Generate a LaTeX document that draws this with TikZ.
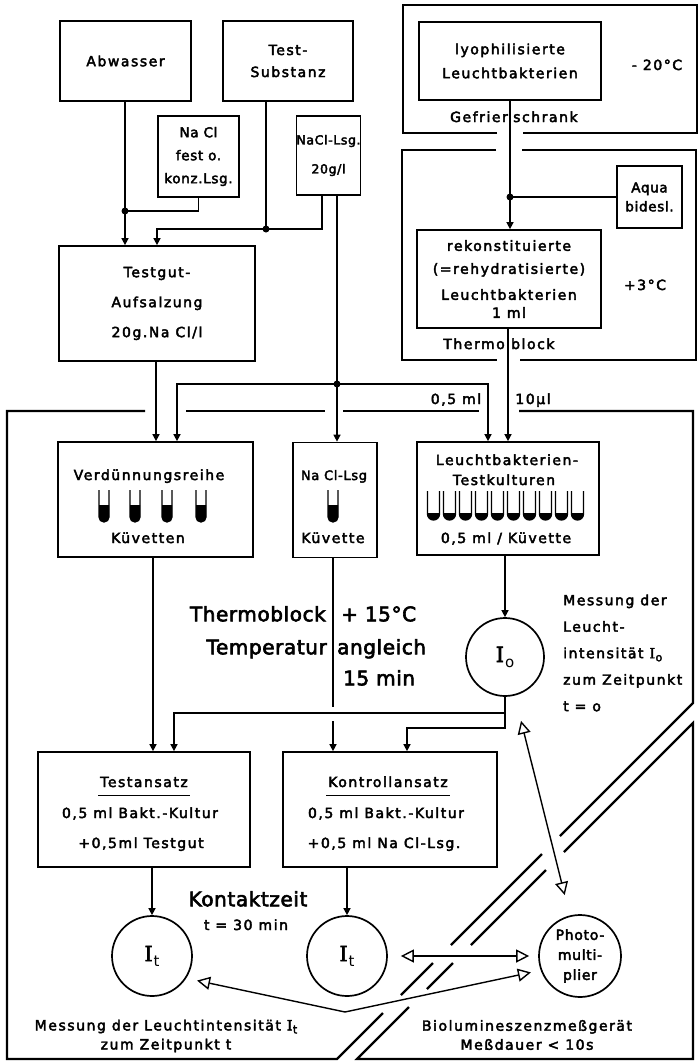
\documentclass[tikz,border=0pt]{standalone}
\usepackage{fontspec}
\setmainfont{DejaVu Sans}
\newfontfamily\lblfont{DejaVu Sans}[LetterSpace=11, FakeBold=3]
\newfontfamily\tightfont{DejaVu Sans}[LetterSpace=5, FakeBold=3]
\newfontfamily\bigfont{DejaVu Sans}[LetterSpace=3, FakeBold=3]
\newfontfamily\serfont{DejaVu Serif}[FakeBold=3]
\usetikzlibrary{arrows.meta}
\newcommand\Ib[1]{{\serfont I}\kern0.5pt\raisebox{-3pt}{\fontsize{11}{11}\selectfont #1}}
\newcommand\Ic[1]{{\serfont\fontsize{21}{21}\selectfont I}\kern1pt\raisebox{-5pt}{\fontsize{15}{15}\selectfont #1}}
\newcommand\mytube[5]{%
  \fill (#1-#5,#4) -- (#1-#5,#3) arc[start angle=180,end angle=360,radius=#5pt] -- (#1+#5,#4) -- cycle;
  \draw[line width=1.3pt] (#1-#5,#2) -- (#1-#5,#3) arc[start angle=180,end angle=360,radius=#5pt] -- (#1+#5,#2);}
\begin{document}
\begin{tikzpicture}[x=1pt,y=-1pt,
  box/.style={draw, line width=1.7pt, inner sep=0pt, align=center, font=\lblfont\fontsize{14}{16}\selectfont},
  tbox/.style={font=\tightfont\fontsize{13.5}{15}\selectfont},
  con/.style={line width=1.4pt},
  arr/.style={con, -{Triangle[length=7pt,width=7pt]}},
  oarr/.style={con, {Triangle[open,length=13pt,width=13pt]}-{Triangle[open,length=13pt,width=13pt]}},
  frame/.style={line width=2.2pt, line join=miter},
  lbl/.style={font=\lblfont\fontsize{14}{16}\selectfont, inner sep=0pt, align=center},
  tlbl/.style={font=\tightfont\fontsize{13}{15}\selectfont, inner sep=0pt, align=center},
  one/.style={text height=10pt, text depth=0pt},
  big/.style={font=\bigfont\fontsize{20}{24}\selectfont, inner sep=0pt},
  bone/.style={text height=14.5pt, text depth=0pt},
  dot/.style={circle, fill, inner sep=0pt, minimum size=7pt},
  meas/.style={circle, draw, line width=1.7pt, inner sep=0pt},
]
\useasboundingbox (0,0) rectangle (698,1063);
\fill[white] (0,0) rectangle (698,1063);

% ---------- frames ----------
\draw[frame] (497,133) -- (403,133) -- (403,5) -- (697,5) -- (697,133) -- (523,133);
\draw[frame] (496,150) -- (402,150) -- (402,360) -- (497,360);
\draw[frame] (522,150) -- (696,150) -- (696,360) -- (520,360);
\draw[frame] (145,411) -- (7,411) -- (7,1059) -- (337,1059) -- (383,1013);
\draw[frame] (401,995) -- (433,963);
\draw[frame] (451,945) -- (542,854);
\draw[frame] (560,836) -- (693,703) -- (693,411) -- (519,411);
\draw[frame] (186,411) -- (325,411);
\draw[frame] (343,411) -- (479,411);
\draw[frame] (564,852) -- (693,723) -- (693,1059) -- (357,1059) -- (409,1007);
\draw[frame] (427,989) -- (453,963);
\draw[frame] (471,945) -- (546,870);

% ---------- boxes ----------
\node[box, minimum width=131pt, minimum height=80pt] (abw) at (125.5,61) {Abwasser};
\node[box, minimum width=130pt, minimum height=80pt] (ts) at (288,61) {Test-\\[6pt]Substanz};
\node[box, tbox, minimum width=81pt, minimum height=81pt] (nafest) at (198.5,156.5) {Na Cl\\[8pt]fest o.\\[8pt]konz.Lsg.};
\node[box, tbox, font=\tightfont\fontsize{12.5}{15}\selectfont, minimum width=63pt, minimum height=79pt] (nalsg) at (328.5,155.5) {NaCl-Lsg.\\[14pt]20g/l};
\node[box, minimum width=196pt, minimum height=115pt] (tga) at (157,303.5) {Testgut-\\[14pt]Aufsalzung\\[14pt]20g.Na Cl/l};
\node[box, minimum width=182pt, minimum height=78pt] (lyo) at (510,61) {lyophilisierte\\[8pt]Leuchtbakterien};
\node[box, tbox, minimum width=65pt, minimum height=62pt] (aqua) at (649.5,197) {Aqua\\[4pt]bidesl.};
\node[box, minimum width=184pt, minimum height=98pt] (rek) at (509,279) {rekonstituierte\\[7pt](=rehydratisierte)\\[10pt]Leuchtbakterien\\[2pt]1 ml};
\node[box, minimum width=195pt, minimum height=115pt] (verd) at (155.5,499.5) {};
\node[box, minimum width=84pt, minimum height=115pt] (nak) at (335,500) {};
\node[box, minimum width=182pt, minimum height=113pt] (lbt) at (508,498.5) {};
\node[box, minimum width=212pt, minimum height=115pt] (testa) at (144,809.5) {};
\node[box, minimum width=214pt, minimum height=115pt] (kontr) at (390,809.5) {};
\node[meas, minimum size=78pt] (i0) at (505,657) {\Ic{o}};
\node[meas, minimum size=80pt] (it1) at (152,956) {\Ic{t}};
\node[meas, minimum size=80pt] (it2) at (347,956) {\Ic{t}};
\node[meas, align=center, minimum size=82pt, font=\tightfont\fontsize{14}{15}\selectfont] (pm) at (580,956) {Photo-\\[5pt]multi-\\[5pt]plier};

% ---------- texts in boxes ----------
\node[lbl,one] (verdA) at (149,475) {Verdünnungsreihe};
\node[lbl,one] (verdB) at (148,538) {Küvetten};
\node[tlbl,one] (nakA) at (334,475) {Na Cl-Lsg};
\node[lbl,one] (nakB) at (333,538) {Küvette};
\node[lbl,one] (lbtA) at (507,460) {Leuchtbakterien-};
\node[lbl,one] (lbtB) at (504,480) {Testkulturen};
\node[lbl,one] (lbtC) at (506,538) {0,5 ml / Küvette};
\node[lbl,one] (taA) at (144,782) {Testansatz};
\node[lbl,one] (taB) at (140,813) {0,5 ml Bakt.-Kultur};
\node[lbl,one] (taC) at (141,843) {+0,5ml Testgut};
\node[lbl,one] (koA) at (388,782) {Kontrollansatz};
\node[lbl,one] (koB) at (386,813) {0,5 ml Bakt.-Kultur};
\node[lbl,one] (koC) at (384,843) {+0,5 ml Na Cl-Lsg.};
\draw[line width=1.4pt] ([xshift=-2pt,yshift=-8pt]taA.south west) -- ([xshift=2pt,yshift=-8pt]taA.south east);
\draw[line width=1.4pt] ([xshift=-2pt,yshift=-8pt]koA.south west) -- ([xshift=2pt,yshift=-8pt]koA.south east);

% tubes
\foreach \x in {104,135,167,201} {\mytube{\x}{490}{517}{505}{5}}
\mytube{333}{490}{517}{505}{5}
\foreach \i in {0,...,9} {\pgfmathsetmacro\tx{433.5+16*\i}\mytube{\tx}{491}{514}{513}{6}}

% ---------- free labels ----------
\node[lbl,one] (gc) at (657,65) {- 20°C};
\node[lbl,one] (g3) at (645,285) {+3°C};
\node[lbl,one,anchor=east] (gf1) at (508,117) {Gefrier};
\node[lbl,one,anchor=west] (gf2) at (513,117) {schrank};
\node[lbl,one,anchor=east] (th1) at (505,344) {Thermo};
\node[lbl,one,anchor=west] (th2) at (511,344) {block};
\node[lbl,one] (ml05) at (456,399) {0,5 ml};
\node[lbl,one] (ul10) at (533,399) {10µl};
\node[big,bone,anchor=east] (tb1) at (326,614) {Thermoblock};
\node[big,bone,anchor=west] (tb2) at (341,614) {+ 15°C};
\node[big,bone,anchor=east] (tb3) at (327,647) {Temperatur};
\node[big,bone,anchor=west] (tb4) at (337,647) {angleich};
\node[big,bone,anchor=west] (tb5) at (343,678) {15 min};
\node[big,bone] (kz) at (248,899) {Kontaktzeit};
\node[lbl,one] (kz2) at (246,925) {t = 30 min};
\node[lbl, align=left, anchor=west, font=\lblfont\fontsize{14}{26.5}\selectfont] (mes0) at (563,653) {Messung der\\Leucht-\\intensität \Ib{o}\\zum Zeitpunkt\\t = o};
\node[lbl, font=\lblfont\fontsize{14}{19}\selectfont] (mest) at (166,1036) {Messung der Leuchtintensität \Ib{t}\\zum Zeitpunkt t};
\node[lbl, font=\lblfont\fontsize{14}{19}\selectfont] (bio) at (527,1035) {Biolumineszenzmeßgerät\\Meßdauer < 10s};

% ---------- junctions ----------
\coordinate (j1) at (125,211);
\coordinate (j2) at (266,229);
\coordinate (b1) at (157,229);
\coordinate (b2) at (322,229);
\coordinate (j3) at (337,384);
\coordinate (c177) at (177,384);
\coordinate (c488) at (488,384);
\coordinate (c156) at (156,0);
\coordinate (j4) at (510,197);
\coordinate (c508) at (508,0);
\coordinate (c153) at (153,0);
\coordinate (k1) at (505,713);
\coordinate (k2) at (174,713);
\coordinate (k3) at (505,728);
\coordinate (k4) at (407,728);
\coordinate (h1) at (333,707);
\coordinate (h2) at (333,721);
\coordinate (v) at (345,1012);

% ---------- connectors ----------
\draw[arr] (abw.south -| j1) -- (tga.north -| j1);
\draw[con] (nafest.south) |- (j1);
\draw[con] (ts.south -| j2) -- (j2);
\draw[arr] (nalsg.south -| b2) |- (b1) -- (tga.north -| b1);
\draw[arr] (nalsg.south -| j3) -- (nak.north -| j3);
\draw[arr] (j3) -- (c177) -- (verd.north -| c177);
\draw[arr] (j3) -- (c488) -- (lbt.north -| c488);
\draw[arr] (tga.south -| c156) -- (verd.north -| c156);
\draw[arr] (lyo.south -| j4) -- (rek.north -| j4);
\draw[con] (aqua.west) -- (j4);
\draw[arr] (rek.south -| c508) -- (lbt.north -| c508);
\draw[arr] (lbt.south -| i0) -- (i0.north);
\draw[arr] (i0.south) -- (k3) -- (k4) -- (kontr.north -| k4);
\draw[arr] (k1) -- (k2) -- (testa.north -| k2);
\draw[arr] (verd.south -| c153) -- (testa.north -| c153);
\draw[con] (nak.south -| h1) -- (h1);
\draw[arr] (h2) -- (kontr.north -| h2);
\draw[arr] (testa.south -| it1) -- (it1.north);
\draw[arr] (kontr.south -| it2) -- (it2.north);
\draw[oarr, shorten <=13pt, shorten >=9pt] (it2) -- (pm);
\draw[oarr, shorten <=26pt, shorten >=21pt] (i0) -- (pm);
\draw[oarr, shorten <=11pt, shorten >=10pt] (it1.327) -- (v) -- (pm.200);

\node[dot] (d1) at (j1) {};
\node[dot] (d2) at (j2) {};
\node[dot] (d3) at (j3) {};
\node[dot] (d4) at (j4) {};
\end{tikzpicture}
\end{document}
